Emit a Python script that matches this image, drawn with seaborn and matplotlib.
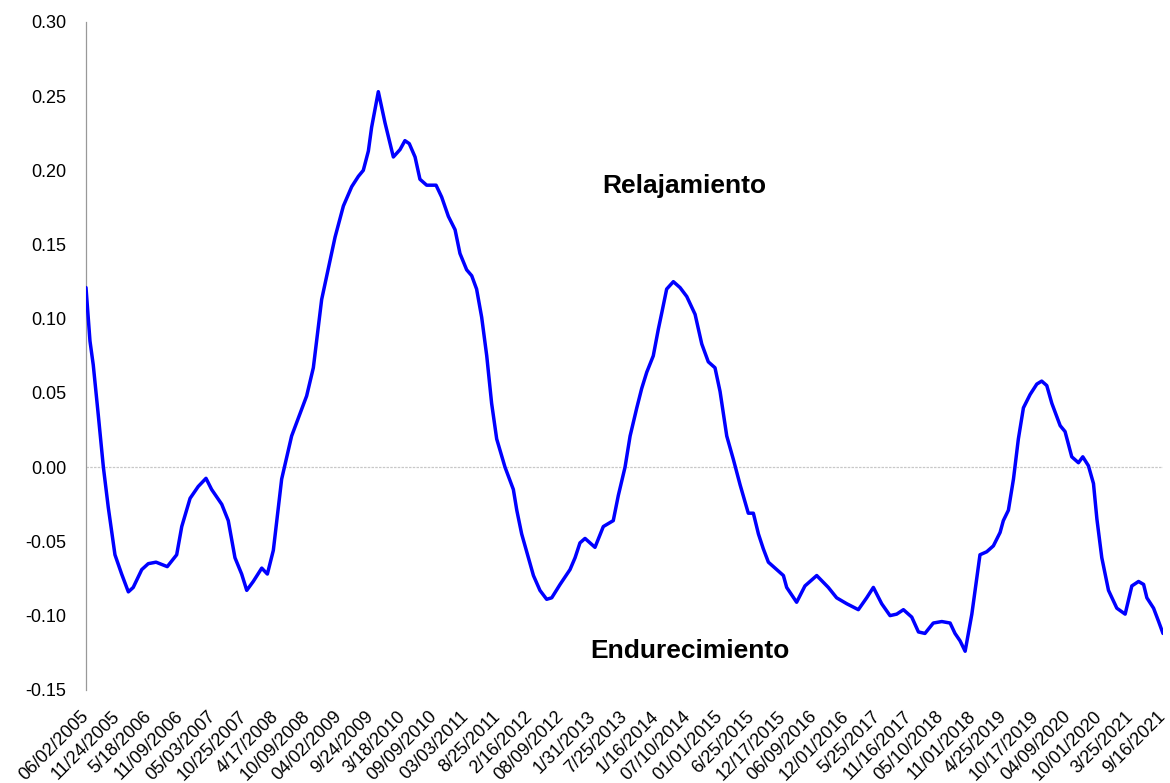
import matplotlib
matplotlib.use("Agg")
from datetime import datetime

import matplotlib.pyplot as plt
import matplotlib.ticker as mticker
import matplotlib.transforms as mtransforms
import pandas as pd
import seaborn as sns

dates = [
    "2005-06-02", "2005-06-24", "2005-07-12", "2005-08-09", "2005-09-06", "2005-10-03",
    "2005-11-09", "2005-12-16", "2006-01-22", "2006-02-18", "2006-04-06", "2006-05-12",
    "2006-06-24", "2006-08-25", "2006-10-16", "2006-11-13", "2006-12-29", "2007-02-12",
    "2007-03-27", "2007-04-27", "2007-06-22", "2007-07-28", "2007-09-03", "2007-10-10",
    "2007-11-07", "2007-12-13", "2008-01-29", "2008-02-29", "2008-04-02", "2008-05-18",
    "2008-07-12", "2008-10-03", "2008-11-09", "2008-12-25", "2009-03-09", "2009-04-24",
    "2009-06-09", "2009-07-16", "2009-08-12", "2009-09-09", "2009-09-27", "2009-11-03",
    "2009-12-10", "2010-01-25", "2010-03-03", "2010-03-30", "2010-04-23", "2010-05-25",
    "2010-06-21", "2010-07-28", "2010-09-18", "2010-10-19", "2010-11-25", "2011-01-01",
    "2011-01-28", "2011-03-06", "2011-04-03", "2011-04-30", "2011-05-28", "2011-06-25",
    "2011-07-22", "2011-08-19", "2011-10-04", "2011-11-19", "2011-12-08", "2012-01-04",
    "2012-02-10", "2012-03-09", "2012-04-14", "2012-05-21", "2012-06-18", "2012-08-03",
    "2012-09-27", "2012-10-25", "2012-11-21", "2012-12-19", "2013-02-12", "2013-03-30",
    "2013-05-24", "2013-06-21", "2013-07-28", "2013-08-25", "2013-10-01", "2013-10-28",
    "2013-11-25", "2013-12-31", "2014-01-28", "2014-02-16", "2014-03-15", "2014-04-21",
    "2014-05-28", "2014-07-04", "2014-08-19", "2014-09-25", "2014-10-31", "2014-12-07",
    "2015-01-04", "2015-02-10", "2015-03-19", "2015-04-25", "2015-06-09", "2015-07-07",
    "2015-08-04", "2015-08-31", "2015-09-28", "2015-11-13", "2015-12-20", "2016-01-07",
    "2016-03-02", "2016-04-17", "2016-06-21", "2016-08-24", "2016-10-09", "2016-12-04",
    "2017-02-06", "2017-03-24", "2017-04-30", "2017-06-15", "2017-07-31", "2017-09-06",
    "2017-10-13", "2017-11-28", "2018-01-04", "2018-02-09", "2018-03-27", "2018-05-13",
    "2018-06-28", "2018-07-25", "2018-08-22", "2018-09-19", "2018-10-26", "2018-12-10",
    "2019-01-16", "2019-02-22", "2019-03-31", "2019-04-18", "2019-05-16", "2019-06-13",
    "2019-07-10", "2019-08-07", "2019-09-13", "2019-10-20", "2019-11-16", "2019-12-14",
    "2020-01-11", "2020-02-26", "2020-03-24", "2020-04-30", "2020-06-06", "2020-06-30",
    "2020-07-31", "2020-08-28", "2020-09-16", "2020-10-13", "2020-11-19", "2021-01-04",
    "2021-02-19", "2021-03-28", "2021-05-04", "2021-06-01", "2021-06-19", "2021-07-26",
    "2021-08-23", "2021-09-16",
]
values = [
    0.121, 0.085, 0.069, 0.035, 0.000, -0.027,
    -0.059, -0.072, -0.084, -0.081, -0.069, -0.065,
    -0.064, -0.067, -0.059, -0.040, -0.021, -0.013,
    -0.0075, -0.015, -0.025, -0.036, -0.061, -0.072,
    -0.083, -0.077, -0.068, -0.072, -0.056, -0.008,
    0.021, 0.048, 0.067, 0.113, 0.155, 0.176,
    0.189, 0.196, 0.200, 0.213, 0.229, 0.253,
    0.232, 0.209, 0.214, 0.220, 0.218, 0.209,
    0.194, 0.190, 0.190, 0.182, 0.169, 0.160,
    0.144, 0.133, 0.129, 0.120, 0.101, 0.075,
    0.043, 0.019, 0.000, -0.015, -0.029, -0.045,
    -0.061, -0.073, -0.083, -0.089, -0.088, -0.079,
    -0.069, -0.061, -0.051, -0.048, -0.054, -0.040,
    -0.036, -0.019, 0.000, 0.021, 0.040, 0.053,
    0.064, 0.075, 0.093, 0.104, 0.120, 0.125,
    0.121, 0.115, 0.103, 0.083, 0.071, 0.067,
    0.051, 0.021, 0.005, -0.012, -0.031, -0.031,
    -0.045, -0.055, -0.064, -0.069, -0.073, -0.081,
    -0.091, -0.080, -0.073, -0.081, -0.088, -0.092,
    -0.096, -0.088, -0.081, -0.092, -0.100, -0.099,
    -0.096, -0.101, -0.111, -0.112, -0.105, -0.104,
    -0.105, -0.112, -0.117, -0.124, -0.099, -0.059,
    -0.057, -0.053, -0.044, -0.036, -0.029, -0.008,
    0.019, 0.040, 0.049, 0.056, 0.058, 0.055,
    0.043, 0.028, 0.024, 0.007, 0.003, 0.007,
    0.001, -0.011, -0.035, -0.061, -0.083, -0.095,
    -0.099, -0.080, -0.077, -0.079, -0.088, -0.095,
    -0.104, -0.112,
]

tick_labels = [
    "06/02/2005", "11/24/2005", "5/18/2006", "11/09/2006", "05/03/2007", "10/25/2007",
    "4/17/2008", "10/09/2008", "04/02/2009", "9/24/2009", "3/18/2010", "09/09/2010",
    "03/03/2011", "8/25/2011", "2/16/2012", "08/09/2012", "1/31/2013", "7/25/2013",
    "1/16/2014", "07/10/2014", "01/01/2015", "6/25/2015", "12/17/2015", "06/09/2016",
    "12/01/2016", "5/25/2017", "11/16/2017", "05/10/2018", "11/01/2018", "4/25/2019",
    "10/17/2019", "04/09/2020", "10/01/2020", "3/25/2021", "9/16/2021",
]
y_ticks = [-0.15, -0.10, -0.05, 0.00, 0.05, 0.10, 0.15, 0.20, 0.25, 0.30]

df = pd.DataFrame({"fecha": pd.to_datetime(dates), "valor": values})
tick_pos = [datetime.strptime(t, "%m/%d/%Y") for t in tick_labels]

sns.set_style("white")
plt.rcParams["font.family"] = ["Liberation Sans", "DejaVu Sans"]
plt.rcParams["axes.unicode_minus"] = False

fig = plt.figure(figsize=(11.7, 7.83), dpi=100)
ax = fig.add_axes([0.0735, 0.119, 0.9205, 0.853])

ax.axhline(0, color="#c8c8c8", lw=0.9, ls=(0, (2, 1)), zorder=1)
sns.lineplot(data=df, x="fecha", y="valor", color="#0000ff", lw=2.5, ax=ax, zorder=3)

ax.set_xlim(tick_pos[0], tick_pos[-1])
ax.set_ylim(-0.15, 0.30)
ax.set_yticks(y_ticks)
ax.yaxis.set_major_formatter(mticker.FormatStrFormatter("%.2f"))
ax.set_xticks(tick_pos)
ax.set_xticklabels(tick_labels, rotation=45, ha="right", rotation_mode="anchor")
ax.tick_params(axis="both", length=0, labelsize=13, labelcolor="#000000")
ax.tick_params(axis="y", pad=14)
ax.tick_params(axis="x", pad=13)
ax.set_xlabel("")
ax.set_ylabel("")

# nudge the slanted date labels a bit to the left, like the original
shift = mtransforms.ScaledTranslation(-0.06, 0, fig.dpi_scale_trans)
for lbl in ax.get_xticklabels():
    lbl.set_transform(lbl.get_transform() + shift)

for side in ["top", "right", "bottom"]:
    ax.spines[side].set_visible(False)
ax.spines["left"].set_color("#999999")
ax.spines["left"].set_linewidth(0.9)

ax.text(0.556, 0.754, "Relajamiento", transform=ax.transAxes, ha="center", va="center",
        fontsize=19, fontweight="bold", color="black")
ax.text(0.561, 0.058, "Endurecimiento", transform=ax.transAxes, ha="center", va="center",
        fontsize=19, fontweight="bold", color="black")

fig.savefig("out.png", dpi=100)
